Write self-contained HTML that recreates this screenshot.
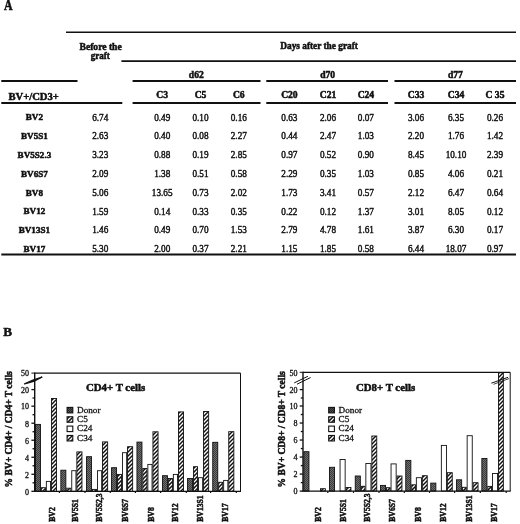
<!DOCTYPE html>
<html><head><meta charset="utf-8"><style>
html,body{margin:0;padding:0;background:#fff;width:520px;height:524px;overflow:hidden}
svg{display:block}
text{font-family:'Liberation Serif', serif;fill:#111;stroke:#111;stroke-width:0.5px}
svg{will-change:transform}
</style></head><body>
<svg width="520" height="524" viewBox="0 0 520 524">
<defs>
<pattern id="pd" patternUnits="userSpaceOnUse" width="2" height="2">
 <rect width="2" height="2" fill="#6e6e6e"/><rect width="1" height="1" fill="#3c3c3c"/><rect x="1" y="1" width="1" height="1" fill="#3c3c3c"/>
</pattern>
<pattern id="pdl" patternUnits="userSpaceOnUse" width="2" height="2">
 <rect width="2" height="2" fill="#555"/><rect width="1" height="1" fill="#222"/><rect x="1" y="1" width="1" height="1" fill="#222"/>
</pattern>
<pattern id="p5" patternUnits="userSpaceOnUse" width="4" height="4">
 <rect width="4" height="4" fill="#111"/><path d="M-1,1 L1,-1 M0,4 L4,0 M3,5 L5,3" stroke="#fff" stroke-width="1.25"/>
</pattern>
<pattern id="p34" patternUnits="userSpaceOnUse" width="4" height="4">
 <rect width="4" height="4" fill="#fff"/><path d="M-1,1 L1,-1 M0,4 L4,0 M3,5 L5,3" stroke="#111" stroke-width="1.45"/>
</pattern>
</defs>
<text x="3.9" y="10" font-size="13.8" font-weight="bold" text-anchor="start" textLength="8.6" lengthAdjust="spacingAndGlyphs">A</text>
<line x1="66" y1="32.3" x2="516" y2="32.3" stroke="#111" stroke-width="1.4"/>
<line x1="121.4" y1="61.1" x2="516" y2="61.1" stroke="#111" stroke-width="1.6"/>
<line x1="1.3" y1="81.0" x2="77.5" y2="81.0" stroke="#111" stroke-width="2.0"/>
<line x1="132.6" y1="81.0" x2="260.5" y2="81.0" stroke="#111" stroke-width="2.0"/>
<line x1="266.3" y1="81.0" x2="388" y2="81.0" stroke="#111" stroke-width="2.0"/>
<line x1="394.5" y1="81.0" x2="516" y2="81.0" stroke="#111" stroke-width="2.0"/>
<line x1="1.3" y1="103.0" x2="122.3" y2="103.0" stroke="#111" stroke-width="2.0"/>
<line x1="132.6" y1="103.0" x2="260.5" y2="103.0" stroke="#111" stroke-width="2.0"/>
<line x1="266.3" y1="103.0" x2="388" y2="103.0" stroke="#111" stroke-width="2.0"/>
<line x1="394.5" y1="103.0" x2="516" y2="103.0" stroke="#111" stroke-width="2.0"/>
<line x1="1.3" y1="254.6" x2="516" y2="254.6" stroke="#111" stroke-width="2.0"/>
<text x="100.6" y="49.8" font-size="9.6" font-weight="bold" text-anchor="middle" >Before the</text>
<text transform="translate(100.3,59.0) scale(0.94,1)" font-size="9.6" font-weight="bold" text-anchor="middle" >graft</text>
<text transform="translate(319.1,49.3) scale(0.97,1)" font-size="9.6" font-weight="bold" text-anchor="middle" >Days after the graft</text>
<text x="196.3" y="77.8" font-size="9.6" font-weight="bold" text-anchor="middle" >d62</text>
<text x="327.6" y="78.3" font-size="9.6" font-weight="bold" text-anchor="middle" >d70</text>
<text x="455.4" y="77.9" font-size="9.6" font-weight="bold" text-anchor="middle" >d77</text>
<text x="8.5" y="99.8" font-size="10.6" font-weight="bold" text-anchor="start" >BV+/CD3+</text>
<text x="162.2" y="98" font-size="9.6" font-weight="bold" text-anchor="middle" >C3</text>
<text x="200.5" y="98" font-size="9.6" font-weight="bold" text-anchor="middle" >C5</text>
<text x="238.8" y="98" font-size="9.6" font-weight="bold" text-anchor="middle" >C6</text>
<text x="289.4" y="98" font-size="9.6" font-weight="bold" text-anchor="middle" >C20</text>
<text x="328" y="98" font-size="9.6" font-weight="bold" text-anchor="middle" >C21</text>
<text x="365.9" y="98" font-size="9.6" font-weight="bold" text-anchor="middle" >C24</text>
<text x="416" y="98" font-size="9.6" font-weight="bold" text-anchor="middle" >C33</text>
<text x="456" y="98" font-size="9.6" font-weight="bold" text-anchor="middle" >C34</text>
<text x="495" y="98" font-size="9.6" font-weight="bold" text-anchor="middle" >C 35</text>
<text x="34.4" y="120.2" font-size="9.1" font-weight="bold" text-anchor="middle" >BV2</text>
<text transform="translate(100.2,120.5) scale(0.95,1)" font-size="9.7" font-weight="normal" text-anchor="middle" style="stroke-width:0.42px">6.74</text>
<text transform="translate(162.2,120.5) scale(0.95,1)" font-size="9.7" font-weight="normal" text-anchor="middle" style="stroke-width:0.42px">0.49</text>
<text transform="translate(200.5,120.5) scale(0.95,1)" font-size="9.7" font-weight="normal" text-anchor="middle" style="stroke-width:0.42px">0.10</text>
<text transform="translate(238.8,120.5) scale(0.95,1)" font-size="9.7" font-weight="normal" text-anchor="middle" style="stroke-width:0.42px">0.16</text>
<text transform="translate(289.4,120.5) scale(0.95,1)" font-size="9.7" font-weight="normal" text-anchor="middle" style="stroke-width:0.42px">0.63</text>
<text transform="translate(328,120.5) scale(0.95,1)" font-size="9.7" font-weight="normal" text-anchor="middle" style="stroke-width:0.42px">2.06</text>
<text transform="translate(365.9,120.5) scale(0.95,1)" font-size="9.7" font-weight="normal" text-anchor="middle" style="stroke-width:0.42px">0.07</text>
<text transform="translate(416,120.5) scale(0.95,1)" font-size="9.7" font-weight="normal" text-anchor="middle" style="stroke-width:0.42px">3.06</text>
<text transform="translate(456,120.5) scale(0.95,1)" font-size="9.7" font-weight="normal" text-anchor="middle" style="stroke-width:0.42px">6.35</text>
<text transform="translate(495,120.5) scale(0.95,1)" font-size="9.7" font-weight="normal" text-anchor="middle" style="stroke-width:0.42px">0.26</text>
<text x="34.4" y="139.03" font-size="9.1" font-weight="bold" text-anchor="middle" >BV5S1</text>
<text transform="translate(100.2,139.33) scale(0.95,1)" font-size="9.7" font-weight="normal" text-anchor="middle" style="stroke-width:0.42px">2.63</text>
<text transform="translate(162.2,139.33) scale(0.95,1)" font-size="9.7" font-weight="normal" text-anchor="middle" style="stroke-width:0.42px">0.40</text>
<text transform="translate(200.5,139.33) scale(0.95,1)" font-size="9.7" font-weight="normal" text-anchor="middle" style="stroke-width:0.42px">0.08</text>
<text transform="translate(238.8,139.33) scale(0.95,1)" font-size="9.7" font-weight="normal" text-anchor="middle" style="stroke-width:0.42px">2.27</text>
<text transform="translate(289.4,139.33) scale(0.95,1)" font-size="9.7" font-weight="normal" text-anchor="middle" style="stroke-width:0.42px">0.44</text>
<text transform="translate(328,139.33) scale(0.95,1)" font-size="9.7" font-weight="normal" text-anchor="middle" style="stroke-width:0.42px">2.47</text>
<text transform="translate(365.9,139.33) scale(0.95,1)" font-size="9.7" font-weight="normal" text-anchor="middle" style="stroke-width:0.42px">1.03</text>
<text transform="translate(416,139.33) scale(0.95,1)" font-size="9.7" font-weight="normal" text-anchor="middle" style="stroke-width:0.42px">2.20</text>
<text transform="translate(456,139.33) scale(0.95,1)" font-size="9.7" font-weight="normal" text-anchor="middle" style="stroke-width:0.42px">1.76</text>
<text transform="translate(495,139.33) scale(0.95,1)" font-size="9.7" font-weight="normal" text-anchor="middle" style="stroke-width:0.42px">1.42</text>
<text x="34.4" y="157.86" font-size="9.1" font-weight="bold" text-anchor="middle" >BV5S2.3</text>
<text transform="translate(100.2,158.16000000000003) scale(0.95,1)" font-size="9.7" font-weight="normal" text-anchor="middle" style="stroke-width:0.42px">3.23</text>
<text transform="translate(162.2,158.16000000000003) scale(0.95,1)" font-size="9.7" font-weight="normal" text-anchor="middle" style="stroke-width:0.42px">0.88</text>
<text transform="translate(200.5,158.16000000000003) scale(0.95,1)" font-size="9.7" font-weight="normal" text-anchor="middle" style="stroke-width:0.42px">0.19</text>
<text transform="translate(238.8,158.16000000000003) scale(0.95,1)" font-size="9.7" font-weight="normal" text-anchor="middle" style="stroke-width:0.42px">2.85</text>
<text transform="translate(289.4,158.16000000000003) scale(0.95,1)" font-size="9.7" font-weight="normal" text-anchor="middle" style="stroke-width:0.42px">0.97</text>
<text transform="translate(328,158.16000000000003) scale(0.95,1)" font-size="9.7" font-weight="normal" text-anchor="middle" style="stroke-width:0.42px">0.52</text>
<text transform="translate(365.9,158.16000000000003) scale(0.95,1)" font-size="9.7" font-weight="normal" text-anchor="middle" style="stroke-width:0.42px">0.90</text>
<text transform="translate(416,158.16000000000003) scale(0.95,1)" font-size="9.7" font-weight="normal" text-anchor="middle" style="stroke-width:0.42px">8.45</text>
<text transform="translate(456,158.16000000000003) scale(0.95,1)" font-size="9.7" font-weight="normal" text-anchor="middle" style="stroke-width:0.42px">10.10</text>
<text transform="translate(495,158.16000000000003) scale(0.95,1)" font-size="9.7" font-weight="normal" text-anchor="middle" style="stroke-width:0.42px">2.39</text>
<text x="34.4" y="176.69" font-size="9.1" font-weight="bold" text-anchor="middle" >BV6S7</text>
<text transform="translate(100.2,176.99) scale(0.95,1)" font-size="9.7" font-weight="normal" text-anchor="middle" style="stroke-width:0.42px">2.09</text>
<text transform="translate(162.2,176.99) scale(0.95,1)" font-size="9.7" font-weight="normal" text-anchor="middle" style="stroke-width:0.42px">1.38</text>
<text transform="translate(200.5,176.99) scale(0.95,1)" font-size="9.7" font-weight="normal" text-anchor="middle" style="stroke-width:0.42px">0.51</text>
<text transform="translate(238.8,176.99) scale(0.95,1)" font-size="9.7" font-weight="normal" text-anchor="middle" style="stroke-width:0.42px">0.58</text>
<text transform="translate(289.4,176.99) scale(0.95,1)" font-size="9.7" font-weight="normal" text-anchor="middle" style="stroke-width:0.42px">2.29</text>
<text transform="translate(328,176.99) scale(0.95,1)" font-size="9.7" font-weight="normal" text-anchor="middle" style="stroke-width:0.42px">0.35</text>
<text transform="translate(365.9,176.99) scale(0.95,1)" font-size="9.7" font-weight="normal" text-anchor="middle" style="stroke-width:0.42px">1.03</text>
<text transform="translate(416,176.99) scale(0.95,1)" font-size="9.7" font-weight="normal" text-anchor="middle" style="stroke-width:0.42px">0.85</text>
<text transform="translate(456,176.99) scale(0.95,1)" font-size="9.7" font-weight="normal" text-anchor="middle" style="stroke-width:0.42px">4.06</text>
<text transform="translate(495,176.99) scale(0.95,1)" font-size="9.7" font-weight="normal" text-anchor="middle" style="stroke-width:0.42px">0.21</text>
<text x="34.4" y="195.52" font-size="9.1" font-weight="bold" text-anchor="middle" >BV8</text>
<text transform="translate(100.2,195.82000000000002) scale(0.95,1)" font-size="9.7" font-weight="normal" text-anchor="middle" style="stroke-width:0.42px">5.06</text>
<text transform="translate(162.2,195.82000000000002) scale(0.95,1)" font-size="9.7" font-weight="normal" text-anchor="middle" style="stroke-width:0.42px">13.65</text>
<text transform="translate(200.5,195.82000000000002) scale(0.95,1)" font-size="9.7" font-weight="normal" text-anchor="middle" style="stroke-width:0.42px">0.73</text>
<text transform="translate(238.8,195.82000000000002) scale(0.95,1)" font-size="9.7" font-weight="normal" text-anchor="middle" style="stroke-width:0.42px">2.02</text>
<text transform="translate(289.4,195.82000000000002) scale(0.95,1)" font-size="9.7" font-weight="normal" text-anchor="middle" style="stroke-width:0.42px">1.73</text>
<text transform="translate(328,195.82000000000002) scale(0.95,1)" font-size="9.7" font-weight="normal" text-anchor="middle" style="stroke-width:0.42px">3.41</text>
<text transform="translate(365.9,195.82000000000002) scale(0.95,1)" font-size="9.7" font-weight="normal" text-anchor="middle" style="stroke-width:0.42px">0.57</text>
<text transform="translate(416,195.82000000000002) scale(0.95,1)" font-size="9.7" font-weight="normal" text-anchor="middle" style="stroke-width:0.42px">2.12</text>
<text transform="translate(456,195.82000000000002) scale(0.95,1)" font-size="9.7" font-weight="normal" text-anchor="middle" style="stroke-width:0.42px">6.47</text>
<text transform="translate(495,195.82000000000002) scale(0.95,1)" font-size="9.7" font-weight="normal" text-anchor="middle" style="stroke-width:0.42px">0.64</text>
<text x="34.4" y="214.35" font-size="9.1" font-weight="bold" text-anchor="middle" >BV12</text>
<text transform="translate(100.2,214.65) scale(0.95,1)" font-size="9.7" font-weight="normal" text-anchor="middle" style="stroke-width:0.42px">1.59</text>
<text transform="translate(162.2,214.65) scale(0.95,1)" font-size="9.7" font-weight="normal" text-anchor="middle" style="stroke-width:0.42px">0.14</text>
<text transform="translate(200.5,214.65) scale(0.95,1)" font-size="9.7" font-weight="normal" text-anchor="middle" style="stroke-width:0.42px">0.33</text>
<text transform="translate(238.8,214.65) scale(0.95,1)" font-size="9.7" font-weight="normal" text-anchor="middle" style="stroke-width:0.42px">0.35</text>
<text transform="translate(289.4,214.65) scale(0.95,1)" font-size="9.7" font-weight="normal" text-anchor="middle" style="stroke-width:0.42px">0.22</text>
<text transform="translate(328,214.65) scale(0.95,1)" font-size="9.7" font-weight="normal" text-anchor="middle" style="stroke-width:0.42px">0.12</text>
<text transform="translate(365.9,214.65) scale(0.95,1)" font-size="9.7" font-weight="normal" text-anchor="middle" style="stroke-width:0.42px">1.37</text>
<text transform="translate(416,214.65) scale(0.95,1)" font-size="9.7" font-weight="normal" text-anchor="middle" style="stroke-width:0.42px">3.01</text>
<text transform="translate(456,214.65) scale(0.95,1)" font-size="9.7" font-weight="normal" text-anchor="middle" style="stroke-width:0.42px">8.05</text>
<text transform="translate(495,214.65) scale(0.95,1)" font-size="9.7" font-weight="normal" text-anchor="middle" style="stroke-width:0.42px">0.12</text>
<text x="34.4" y="233.18" font-size="9.1" font-weight="bold" text-anchor="middle" >BV13S1</text>
<text transform="translate(100.2,233.48000000000002) scale(0.95,1)" font-size="9.7" font-weight="normal" text-anchor="middle" style="stroke-width:0.42px">1.46</text>
<text transform="translate(162.2,233.48000000000002) scale(0.95,1)" font-size="9.7" font-weight="normal" text-anchor="middle" style="stroke-width:0.42px">0.49</text>
<text transform="translate(200.5,233.48000000000002) scale(0.95,1)" font-size="9.7" font-weight="normal" text-anchor="middle" style="stroke-width:0.42px">0.70</text>
<text transform="translate(238.8,233.48000000000002) scale(0.95,1)" font-size="9.7" font-weight="normal" text-anchor="middle" style="stroke-width:0.42px">1.53</text>
<text transform="translate(289.4,233.48000000000002) scale(0.95,1)" font-size="9.7" font-weight="normal" text-anchor="middle" style="stroke-width:0.42px">2.79</text>
<text transform="translate(328,233.48000000000002) scale(0.95,1)" font-size="9.7" font-weight="normal" text-anchor="middle" style="stroke-width:0.42px">4.78</text>
<text transform="translate(365.9,233.48000000000002) scale(0.95,1)" font-size="9.7" font-weight="normal" text-anchor="middle" style="stroke-width:0.42px">1.61</text>
<text transform="translate(416,233.48000000000002) scale(0.95,1)" font-size="9.7" font-weight="normal" text-anchor="middle" style="stroke-width:0.42px">3.87</text>
<text transform="translate(456,233.48000000000002) scale(0.95,1)" font-size="9.7" font-weight="normal" text-anchor="middle" style="stroke-width:0.42px">6.30</text>
<text transform="translate(495,233.48000000000002) scale(0.95,1)" font-size="9.7" font-weight="normal" text-anchor="middle" style="stroke-width:0.42px">0.17</text>
<text x="34.4" y="252.01" font-size="9.1" font-weight="bold" text-anchor="middle" >BV17</text>
<text transform="translate(100.2,252.31) scale(0.95,1)" font-size="9.7" font-weight="normal" text-anchor="middle" style="stroke-width:0.42px">5.30</text>
<text transform="translate(162.2,252.31) scale(0.95,1)" font-size="9.7" font-weight="normal" text-anchor="middle" style="stroke-width:0.42px">2.00</text>
<text transform="translate(200.5,252.31) scale(0.95,1)" font-size="9.7" font-weight="normal" text-anchor="middle" style="stroke-width:0.42px">0.37</text>
<text transform="translate(238.8,252.31) scale(0.95,1)" font-size="9.7" font-weight="normal" text-anchor="middle" style="stroke-width:0.42px">2.21</text>
<text transform="translate(289.4,252.31) scale(0.95,1)" font-size="9.7" font-weight="normal" text-anchor="middle" style="stroke-width:0.42px">1.15</text>
<text transform="translate(328,252.31) scale(0.95,1)" font-size="9.7" font-weight="normal" text-anchor="middle" style="stroke-width:0.42px">1.85</text>
<text transform="translate(365.9,252.31) scale(0.95,1)" font-size="9.7" font-weight="normal" text-anchor="middle" style="stroke-width:0.42px">0.58</text>
<text transform="translate(416,252.31) scale(0.95,1)" font-size="9.7" font-weight="normal" text-anchor="middle" style="stroke-width:0.42px">6.44</text>
<text transform="translate(456,252.31) scale(0.95,1)" font-size="9.7" font-weight="normal" text-anchor="middle" style="stroke-width:0.42px">18.07</text>
<text transform="translate(495,252.31) scale(0.95,1)" font-size="9.7" font-weight="normal" text-anchor="middle" style="stroke-width:0.42px">0.97</text>
<text x="3.3" y="336.4" font-size="13.4" font-weight="bold" text-anchor="start" textLength="8.8" lengthAdjust="spacingAndGlyphs">B</text>
<rect x="35.45" y="424.4" width="5.0" height="66.9" fill="url(#pd)" stroke="#111" stroke-width="0.9"/>
<rect x="41.35" y="487.7" width="4.1" height="3.6" fill="url(#p5)" stroke="#111" stroke-width="0.9"/>
<rect x="46.35" y="481.4" width="4.2" height="9.9" fill="#fff" stroke="#111" stroke-width="0.9"/>
<rect x="51.45" y="398.5" width="5.1" height="92.8" fill="url(#p34)" stroke="#111" stroke-width="0.9"/>
<rect x="60.85" y="470.2" width="5.0" height="21.1" fill="url(#pd)" stroke="#111" stroke-width="0.9"/>
<rect x="66.75" y="488.2" width="4.1" height="3.1" fill="url(#p5)" stroke="#111" stroke-width="0.9"/>
<rect x="71.75" y="470.7" width="4.2" height="20.6" fill="#fff" stroke="#111" stroke-width="0.9"/>
<rect x="76.85" y="451.9" width="5.1" height="39.4" fill="url(#p34)" stroke="#111" stroke-width="0.9"/>
<rect x="86.55" y="456.7" width="5.0" height="34.6" fill="url(#pd)" stroke="#111" stroke-width="0.9"/>
<rect x="92.45" y="489.4" width="4.1" height="1.9" fill="url(#p5)" stroke="#111" stroke-width="0.9"/>
<rect x="97.45" y="470.7" width="4.2" height="20.6" fill="#fff" stroke="#111" stroke-width="0.9"/>
<rect x="102.55" y="441.9" width="5.1" height="49.4" fill="url(#p34)" stroke="#111" stroke-width="0.9"/>
<rect x="111.55" y="467.7" width="5.0" height="23.6" fill="url(#pd)" stroke="#111" stroke-width="0.9"/>
<rect x="117.45" y="474.4" width="4.1" height="16.9" fill="url(#p5)" stroke="#111" stroke-width="0.9"/>
<rect x="122.45" y="452.7" width="4.2" height="38.6" fill="#fff" stroke="#111" stroke-width="0.9"/>
<rect x="127.55" y="446.7" width="5.1" height="44.6" fill="url(#p34)" stroke="#111" stroke-width="0.9"/>
<rect x="136.95" y="442.09999999999997" width="5.0" height="49.2" fill="url(#pd)" stroke="#111" stroke-width="0.9"/>
<rect x="142.85" y="468.5" width="4.1" height="22.8" fill="url(#p5)" stroke="#111" stroke-width="0.9"/>
<rect x="147.85" y="464.4" width="4.2" height="26.9" fill="#fff" stroke="#111" stroke-width="0.9"/>
<rect x="152.95" y="431.79999999999995" width="5.1" height="59.5" fill="url(#p34)" stroke="#111" stroke-width="0.9"/>
<rect x="162.45" y="475.7" width="5.0" height="15.6" fill="url(#pd)" stroke="#111" stroke-width="0.9"/>
<rect x="168.35" y="478.5" width="4.1" height="12.8" fill="url(#p5)" stroke="#111" stroke-width="0.9"/>
<rect x="173.35" y="474.4" width="4.2" height="16.9" fill="#fff" stroke="#111" stroke-width="0.9"/>
<rect x="178.45" y="411.9" width="5.1" height="79.4" fill="url(#p34)" stroke="#111" stroke-width="0.9"/>
<rect x="187.55" y="478.5" width="5.0" height="12.8" fill="url(#pd)" stroke="#111" stroke-width="0.9"/>
<rect x="193.45" y="466.7" width="4.1" height="24.6" fill="url(#p5)" stroke="#111" stroke-width="0.9"/>
<rect x="198.45" y="477.7" width="4.2" height="13.6" fill="#fff" stroke="#111" stroke-width="0.9"/>
<rect x="203.55" y="411.5" width="5.1" height="79.8" fill="url(#p34)" stroke="#111" stroke-width="0.9"/>
<rect x="212.75" y="442.29999999999995" width="5.0" height="49.0" fill="url(#pd)" stroke="#111" stroke-width="0.9"/>
<rect x="218.65" y="482.29999999999995" width="4.1" height="9.0" fill="url(#p5)" stroke="#111" stroke-width="0.9"/>
<rect x="223.65" y="480.4" width="4.2" height="10.9" fill="#fff" stroke="#111" stroke-width="0.9"/>
<rect x="228.75" y="431.7" width="5.1" height="59.6" fill="url(#p34)" stroke="#111" stroke-width="0.9"/>
<line x1="34.7" y1="373.1" x2="240.5" y2="373.1" stroke="#111" stroke-width="1.3"/>
<line x1="240.5" y1="373.1" x2="240.5" y2="491.3" stroke="#111" stroke-width="1.0"/>
<line x1="34.7" y1="372.6" x2="34.7" y2="491.8" stroke="#111" stroke-width="1.4"/>
<line x1="34.2" y1="491.3" x2="241.0" y2="491.3" stroke="#111" stroke-width="1.3"/>
<line x1="31.400000000000002" y1="491.3" x2="34.7" y2="491.3" stroke="#111" stroke-width="1.3"/>
<line x1="32.5" y1="482.79" x2="34.7" y2="482.79" stroke="#111" stroke-width="1.3"/>
<line x1="31.400000000000002" y1="474.28000000000003" x2="34.7" y2="474.28000000000003" stroke="#111" stroke-width="1.3"/>
<line x1="32.5" y1="465.77" x2="34.7" y2="465.77" stroke="#111" stroke-width="1.3"/>
<line x1="31.400000000000002" y1="457.26" x2="34.7" y2="457.26" stroke="#111" stroke-width="1.3"/>
<line x1="32.5" y1="448.75" x2="34.7" y2="448.75" stroke="#111" stroke-width="1.3"/>
<line x1="31.400000000000002" y1="440.24" x2="34.7" y2="440.24" stroke="#111" stroke-width="1.3"/>
<line x1="32.5" y1="431.73" x2="34.7" y2="431.73" stroke="#111" stroke-width="1.3"/>
<line x1="31.400000000000002" y1="423.22" x2="34.7" y2="423.22" stroke="#111" stroke-width="1.3"/>
<line x1="32.5" y1="414.71000000000004" x2="34.7" y2="414.71000000000004" stroke="#111" stroke-width="1.3"/>
<line x1="31.400000000000002" y1="406.20000000000005" x2="34.7" y2="406.20000000000005" stroke="#111" stroke-width="1.3"/>
<line x1="32.5" y1="398" x2="34.7" y2="398" stroke="#111" stroke-width="1.3"/>
<line x1="31.400000000000002" y1="389.6" x2="34.7" y2="389.6" stroke="#111" stroke-width="1.3"/>
<line x1="31.400000000000002" y1="373.1" x2="34.7" y2="373.1" stroke="#111" stroke-width="1.0"/>
<text x="29.1" y="494.6" font-size="8.0" font-weight="normal" text-anchor="end" style="stroke-width:0.3px">0</text>
<text x="29.1" y="477.62" font-size="8.0" font-weight="normal" text-anchor="end" style="stroke-width:0.3px">2</text>
<text x="29.1" y="460.64000000000004" font-size="8.0" font-weight="normal" text-anchor="end" style="stroke-width:0.3px">4</text>
<text x="29.1" y="443.66" font-size="8.0" font-weight="normal" text-anchor="end" style="stroke-width:0.3px">6</text>
<text x="29.1" y="426.68" font-size="8.0" font-weight="normal" text-anchor="end" style="stroke-width:0.3px">8</text>
<text x="29.1" y="409.40000000000003" font-size="8.0" font-weight="normal" text-anchor="end" style="stroke-width:0.3px">10</text>
<text x="29.1" y="392.6" font-size="8.0" font-weight="normal" text-anchor="end" style="stroke-width:0.3px">20</text>
<text x="29.1" y="375.90000000000003" font-size="8.0" font-weight="normal" text-anchor="end" style="stroke-width:0.3px">50</text>
<line x1="59.4" y1="491.3" x2="59.4" y2="493.1" stroke="#111" stroke-width="1.2"/>
<line x1="85" y1="491.3" x2="85" y2="493.1" stroke="#111" stroke-width="1.2"/>
<line x1="110.3" y1="491.3" x2="110.3" y2="493.1" stroke="#111" stroke-width="1.2"/>
<line x1="135.4" y1="491.3" x2="135.4" y2="493.1" stroke="#111" stroke-width="1.2"/>
<line x1="160.6" y1="491.3" x2="160.6" y2="493.1" stroke="#111" stroke-width="1.2"/>
<line x1="186.3" y1="491.3" x2="186.3" y2="493.1" stroke="#111" stroke-width="1.2"/>
<line x1="210.6" y1="491.3" x2="210.6" y2="493.1" stroke="#111" stroke-width="1.2"/>
<line x1="236.3" y1="491.3" x2="236.3" y2="493.1" stroke="#111" stroke-width="1.2"/>
<text transform="translate(54.8,521.8) rotate(-90)" font-size="7.7" font-weight="bold">BV2</text>
<text transform="translate(78.4,521.8) rotate(-90)" font-size="7.7" font-weight="bold">BV5S1</text>
<text transform="translate(102.4,521.8) rotate(-90)" font-size="7.7" font-weight="bold">BV5S2,3</text>
<text transform="translate(127.6,521.8) rotate(-90)" font-size="7.7" font-weight="bold">BV6S7</text>
<text transform="translate(153.75,521.8) rotate(-90)" font-size="7.7" font-weight="bold">BV8</text>
<text transform="translate(177.9,521.8) rotate(-90)" font-size="7.7" font-weight="bold">BV12</text>
<text transform="translate(203.1,521.8) rotate(-90)" font-size="7.7" font-weight="bold">BV13S1</text>
<text transform="translate(227.6,521.8) rotate(-90)" font-size="7.7" font-weight="bold">BV17</text>
<text x="86.0" y="390.8" font-size="10.8" font-weight="bold" text-anchor="start" >CD4+ T cells</text>
<rect x="67.1" y="407.4" width="5.7" height="5.5" fill="url(#pdl)" stroke="#111" stroke-width="1.1"/>
<text x="77.0" y="412.59999999999997" font-size="9.2" font-weight="normal" text-anchor="start" style="stroke-width:0.3px">Donor</text>
<rect x="67.1" y="416.75" width="5.7" height="5.5" fill="url(#p5)" stroke="#111" stroke-width="1.1"/>
<text x="77.0" y="421.95" font-size="9.2" font-weight="normal" text-anchor="start" style="stroke-width:0.3px">C5</text>
<rect x="67.1" y="426.09999999999997" width="5.7" height="5.5" fill="#fff" stroke="#111" stroke-width="1.1"/>
<text x="77.0" y="431.29999999999995" font-size="9.2" font-weight="normal" text-anchor="start" style="stroke-width:0.3px">C24</text>
<rect x="67.1" y="435.45" width="5.7" height="5.5" fill="url(#p34)" stroke="#111" stroke-width="1.1"/>
<text x="77.0" y="440.65" font-size="9.2" font-weight="normal" text-anchor="start" style="stroke-width:0.3px">C34</text>
<text transform="translate(12.0,487.4) rotate(-90)" font-size="9.5" font-weight="bold">% BV+ CD4+ / CD4+ T cells</text>
<rect x="303.85" y="451.7" width="5.1" height="39.4" fill="url(#pd)" stroke="#111" stroke-width="0.9"/>
<rect x="320.45" y="488.7" width="4.9" height="2.4" fill="url(#p34)" stroke="#111" stroke-width="0.9"/>
<rect x="329.45" y="467.29999999999995" width="5.1" height="23.8" fill="url(#pd)" stroke="#111" stroke-width="0.9"/>
<rect x="340.05" y="459.5" width="5.1" height="31.6" fill="#fff" stroke="#111" stroke-width="0.9"/>
<rect x="346.05" y="487.5" width="4.9" height="3.6" fill="url(#p34)" stroke="#111" stroke-width="0.9"/>
<rect x="355.25" y="476.0" width="5.1" height="15.1" fill="url(#pd)" stroke="#111" stroke-width="0.9"/>
<rect x="361.25" y="486.29999999999995" width="3.7" height="4.8" fill="url(#p5)" stroke="#111" stroke-width="0.9"/>
<rect x="365.85" y="463.5" width="5.1" height="27.6" fill="#fff" stroke="#111" stroke-width="0.9"/>
<rect x="371.85" y="436.0" width="4.9" height="55.1" fill="url(#p34)" stroke="#111" stroke-width="0.9"/>
<rect x="380.45" y="485.4" width="5.1" height="5.7" fill="url(#pd)" stroke="#111" stroke-width="0.9"/>
<rect x="386.45" y="487.7" width="3.7" height="3.4" fill="url(#p5)" stroke="#111" stroke-width="0.9"/>
<rect x="391.05" y="463.9" width="5.1" height="27.2" fill="#fff" stroke="#111" stroke-width="0.9"/>
<rect x="397.05" y="476.0" width="4.9" height="15.1" fill="url(#p34)" stroke="#111" stroke-width="0.9"/>
<rect x="405.75" y="460.4" width="5.1" height="30.7" fill="url(#pd)" stroke="#111" stroke-width="0.9"/>
<rect x="411.75" y="484.79999999999995" width="3.7" height="6.3" fill="url(#p5)" stroke="#111" stroke-width="0.9"/>
<rect x="416.35" y="477.7" width="5.1" height="13.4" fill="#fff" stroke="#111" stroke-width="0.9"/>
<rect x="422.35" y="475.7" width="4.9" height="15.4" fill="url(#p34)" stroke="#111" stroke-width="0.9"/>
<rect x="430.75" y="483.09999999999997" width="5.1" height="8.0" fill="url(#pd)" stroke="#111" stroke-width="0.9"/>
<rect x="441.35" y="445.4" width="5.1" height="45.7" fill="#fff" stroke="#111" stroke-width="0.9"/>
<rect x="447.35" y="472.7" width="4.9" height="18.4" fill="url(#p34)" stroke="#111" stroke-width="0.9"/>
<rect x="456.55" y="479.79999999999995" width="5.1" height="11.3" fill="url(#pd)" stroke="#111" stroke-width="0.9"/>
<rect x="462.55" y="487.29999999999995" width="3.7" height="3.8" fill="url(#p5)" stroke="#111" stroke-width="0.9"/>
<rect x="467.15" y="435.7" width="5.1" height="55.4" fill="#fff" stroke="#111" stroke-width="0.9"/>
<rect x="473.15" y="482.7" width="4.9" height="8.4" fill="url(#p34)" stroke="#111" stroke-width="0.9"/>
<rect x="481.85" y="458.5" width="5.1" height="32.6" fill="url(#pd)" stroke="#111" stroke-width="0.9"/>
<rect x="487.85" y="486.4" width="3.7" height="4.7" fill="url(#p5)" stroke="#111" stroke-width="0.9"/>
<rect x="492.45" y="473.5" width="5.1" height="17.6" fill="#fff" stroke="#111" stroke-width="0.9"/>
<rect x="498.45" y="372.7" width="4.9" height="118.4" fill="url(#p34)" stroke="#111" stroke-width="0.9"/>
<line x1="303.0" y1="372.3" x2="510.2" y2="372.3" stroke="#111" stroke-width="1.3"/>
<line x1="510.2" y1="372.3" x2="510.2" y2="491.1" stroke="#111" stroke-width="1.0"/>
<line x1="303.0" y1="371.8" x2="303.0" y2="491.6" stroke="#111" stroke-width="1.4"/>
<line x1="302.5" y1="491.1" x2="510.7" y2="491.1" stroke="#111" stroke-width="1.3"/>
<line x1="299.7" y1="491.1" x2="303.0" y2="491.1" stroke="#111" stroke-width="1.3"/>
<line x1="300.8" y1="482.59000000000003" x2="303.0" y2="482.59000000000003" stroke="#111" stroke-width="1.3"/>
<line x1="299.7" y1="474.08000000000004" x2="303.0" y2="474.08000000000004" stroke="#111" stroke-width="1.3"/>
<line x1="300.8" y1="465.57000000000005" x2="303.0" y2="465.57000000000005" stroke="#111" stroke-width="1.3"/>
<line x1="299.7" y1="457.06" x2="303.0" y2="457.06" stroke="#111" stroke-width="1.3"/>
<line x1="300.8" y1="448.55" x2="303.0" y2="448.55" stroke="#111" stroke-width="1.3"/>
<line x1="299.7" y1="440.04" x2="303.0" y2="440.04" stroke="#111" stroke-width="1.3"/>
<line x1="300.8" y1="431.53000000000003" x2="303.0" y2="431.53000000000003" stroke="#111" stroke-width="1.3"/>
<line x1="299.7" y1="423.02000000000004" x2="303.0" y2="423.02000000000004" stroke="#111" stroke-width="1.3"/>
<line x1="300.8" y1="414.51" x2="303.0" y2="414.51" stroke="#111" stroke-width="1.3"/>
<line x1="299.7" y1="406.0" x2="303.0" y2="406.0" stroke="#111" stroke-width="1.3"/>
<line x1="300.8" y1="398" x2="303.0" y2="398" stroke="#111" stroke-width="1.3"/>
<line x1="299.7" y1="389.6" x2="303.0" y2="389.6" stroke="#111" stroke-width="1.3"/>
<line x1="299.7" y1="372.3" x2="303.0" y2="372.3" stroke="#111" stroke-width="1.0"/>
<text x="297.4" y="494.40000000000003" font-size="8.0" font-weight="normal" text-anchor="end" style="stroke-width:0.3px">0</text>
<text x="297.4" y="477.42" font-size="8.0" font-weight="normal" text-anchor="end" style="stroke-width:0.3px">2</text>
<text x="297.4" y="460.44000000000005" font-size="8.0" font-weight="normal" text-anchor="end" style="stroke-width:0.3px">4</text>
<text x="297.4" y="443.46000000000004" font-size="8.0" font-weight="normal" text-anchor="end" style="stroke-width:0.3px">6</text>
<text x="297.4" y="426.48" font-size="8.0" font-weight="normal" text-anchor="end" style="stroke-width:0.3px">8</text>
<text x="297.4" y="409.40000000000003" font-size="8.0" font-weight="normal" text-anchor="end" style="stroke-width:0.3px">10</text>
<text x="297.4" y="392.6" font-size="8.0" font-weight="normal" text-anchor="end" style="stroke-width:0.3px">20</text>
<text x="297.4" y="375.90000000000003" font-size="8.0" font-weight="normal" text-anchor="end" style="stroke-width:0.3px">50</text>
<line x1="327.8" y1="491.1" x2="327.8" y2="492.90000000000003" stroke="#111" stroke-width="1.2"/>
<line x1="353.5" y1="491.1" x2="353.5" y2="492.90000000000003" stroke="#111" stroke-width="1.2"/>
<line x1="379" y1="491.1" x2="379" y2="492.90000000000003" stroke="#111" stroke-width="1.2"/>
<line x1="404.3" y1="491.1" x2="404.3" y2="492.90000000000003" stroke="#111" stroke-width="1.2"/>
<line x1="429.5" y1="491.1" x2="429.5" y2="492.90000000000003" stroke="#111" stroke-width="1.2"/>
<line x1="454.6" y1="491.1" x2="454.6" y2="492.90000000000003" stroke="#111" stroke-width="1.2"/>
<line x1="480.3" y1="491.1" x2="480.3" y2="492.90000000000003" stroke="#111" stroke-width="1.2"/>
<line x1="506.2" y1="491.1" x2="506.2" y2="492.90000000000003" stroke="#111" stroke-width="1.2"/>
<text transform="translate(321.0,521.8) rotate(-90)" font-size="7.7" font-weight="bold">BV2</text>
<text transform="translate(346.2,521.8) rotate(-90)" font-size="7.7" font-weight="bold">BV5S1</text>
<text transform="translate(369.8,521.8) rotate(-90)" font-size="7.7" font-weight="bold">BV5S2,3</text>
<text transform="translate(395.0,521.8) rotate(-90)" font-size="7.7" font-weight="bold">BV6S7</text>
<text transform="translate(420.5,521.8) rotate(-90)" font-size="7.7" font-weight="bold">BV8</text>
<text transform="translate(446.2,521.8) rotate(-90)" font-size="7.7" font-weight="bold">BV12</text>
<text transform="translate(471.6,521.8) rotate(-90)" font-size="7.7" font-weight="bold">BV13S1</text>
<text transform="translate(497.0,521.8) rotate(-90)" font-size="7.7" font-weight="bold">BV17</text>
<text x="356.0" y="391.2" font-size="10.8" font-weight="bold" text-anchor="start" >CD8+ T cells</text>
<rect x="328.7" y="407.4" width="5.7" height="5.5" fill="url(#pdl)" stroke="#111" stroke-width="1.1"/>
<text x="338.6" y="412.59999999999997" font-size="9.2" font-weight="normal" text-anchor="start" style="stroke-width:0.3px">Donor</text>
<rect x="328.7" y="416.75" width="5.7" height="5.5" fill="url(#p5)" stroke="#111" stroke-width="1.1"/>
<text x="338.6" y="421.95" font-size="9.2" font-weight="normal" text-anchor="start" style="stroke-width:0.3px">C5</text>
<rect x="328.7" y="426.09999999999997" width="5.7" height="5.5" fill="#fff" stroke="#111" stroke-width="1.1"/>
<text x="338.6" y="431.29999999999995" font-size="9.2" font-weight="normal" text-anchor="start" style="stroke-width:0.3px">C24</text>
<rect x="328.7" y="435.45" width="5.7" height="5.5" fill="url(#p34)" stroke="#111" stroke-width="1.1"/>
<text x="338.6" y="440.65" font-size="9.2" font-weight="normal" text-anchor="start" style="stroke-width:0.3px">C34</text>
<text transform="translate(284.7,487.4) rotate(-90)" font-size="9.5" font-weight="bold">% BV+ CD8+ / CD8+ T cells</text>
<polygon points="24.6,383.9 33,380.2 41.9,377.2 33.5,381.4" fill="#111" stroke="#111" stroke-width="1.4" stroke-linejoin="round"/>
<line x1="294.2" y1="382.9" x2="307.9" y2="376.3" stroke="#111" stroke-width="1.0"/>
<line x1="297.0" y1="384.2" x2="310.6" y2="377.5" stroke="#111" stroke-width="1.0"/>
<line x1="491.3" y1="383.2" x2="508.1" y2="377.3" stroke="#111" stroke-width="1.0"/>
<line x1="493.5" y1="384.3" x2="509.0" y2="378.6" stroke="#111" stroke-width="0.8"/>
</svg>
</body></html>
